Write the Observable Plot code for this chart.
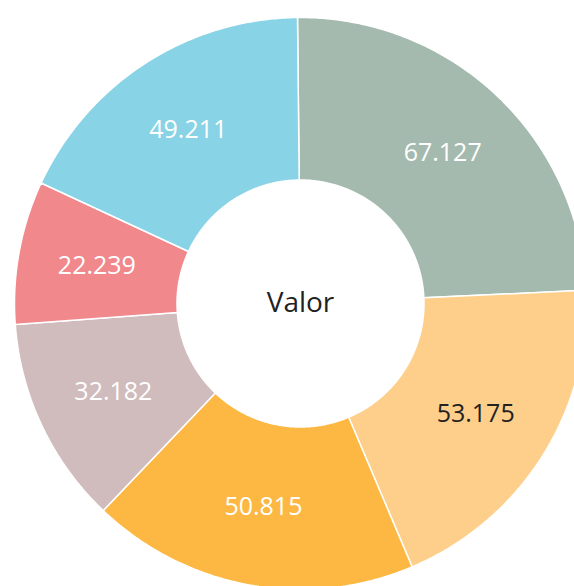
<!DOCTYPE html>
<html><head><meta charset="utf-8">
<script src="https://cdn.jsdelivr.net/npm/d3@7"></script>
<script src="https://cdn.jsdelivr.net/npm/@observablehq/plot@0.6"></script>
<style>html,body{margin:0;padding:0;background:#fff;overflow:hidden}</style>
</head><body><div id="chart"></div>
<script>
const categories = ["s1", "s2", "s3", "s4", "s5", "s6"];
const values = [67.127, 53.175, 50.815, 32.182, 22.239, 49.211];
const labels = ["67.127", "53.175", "50.815", "32.182", "22.239", "49.211"];
const colors = ["#a4baae", "#fecf8a", "#fdb843", "#d0bbbd", "#f0888c", "#88d3e6"];
const centerTitle = "Valor";

const W = 574, H = 586, cx = 300, cy = 303, R = 286, r0 = 123.5;
const rot = -0.6 * Math.PI / 180;
const rows = categories.map((c, i) => ({category: c, value: values[i], label: labels[i], color: colors[i]}));
const pie = d3.pie().sort(null).value(d => d.value).startAngle(rot).endAngle(rot + 2 * Math.PI)(rows);

const ring = [];
for (const s of pie) {
  const span = s.endAngle - s.startAngle;
  const n = Math.max(8, Math.ceil(span / (Math.PI / 360)));
  const pts = [];
  for (let k = 0; k <= n; k++) { const a = s.startAngle + span * k / n; pts.push([R * Math.sin(a), R * Math.cos(a)]); }
  for (let k = n; k >= 0; k--) { const a = s.startAngle + span * k / n; pts.push([r0 * Math.sin(a), r0 * Math.cos(a)]); }
  pts.push(pts[0]);
  for (const p of pts) ring.push({category: s.data.category, x: p[0], y: p[1]});
}

const rl = 207;
const mid = s => (s.startAngle + s.endAngle) / 2;
const lum = c => { const o = d3.rgb(c); const f = v => { v /= 255; return v <= 0.03928 ? v / 12.92 : Math.pow((v + 0.055) / 1.055, 2.4); }; return 0.2126 * f(o.r) + 0.7152 * f(o.g) + 0.0722 * f(o.b); };
const isDark = s => lum(s.data.color) > 0.6;

const font = "'Open Sans', 'Noto Sans', sans-serif";
const chart = Plot.plot({
  width: W, height: H, margin: 0,
  x: {axis: null, domain: [-cx, W - cx]},
  y: {axis: null, domain: [-(H - cy), cy]},
  color: {domain: categories, range: colors},
  style: {fontFamily: font, background: "#fff"},
  marks: [
    Plot.line(ring, {x: "x", y: "y", z: "category", fill: "category", stroke: "#fff", strokeWidth: 1.5, strokeLinejoin: "miter", curve: "linear"}),
    Plot.text(pie.filter(s => !isDark(s)), {x: s => rl * Math.sin(mid(s)), y: s => rl * Math.cos(mid(s)), text: s => s.data.label, fill: "#fff", fontSize: 25}),
    Plot.text(pie.filter(isDark), {x: s => rl * Math.sin(mid(s)), y: s => rl * Math.cos(mid(s)), text: s => s.data.label, fill: "#222", fontSize: 25}),
    Plot.text([centerTitle], {x: () => 0, y: () => 0, text: d => d, fill: "#222", fontSize: 28})
  ]
});
document.getElementById("chart").appendChild(chart);
</script>
</body></html>
